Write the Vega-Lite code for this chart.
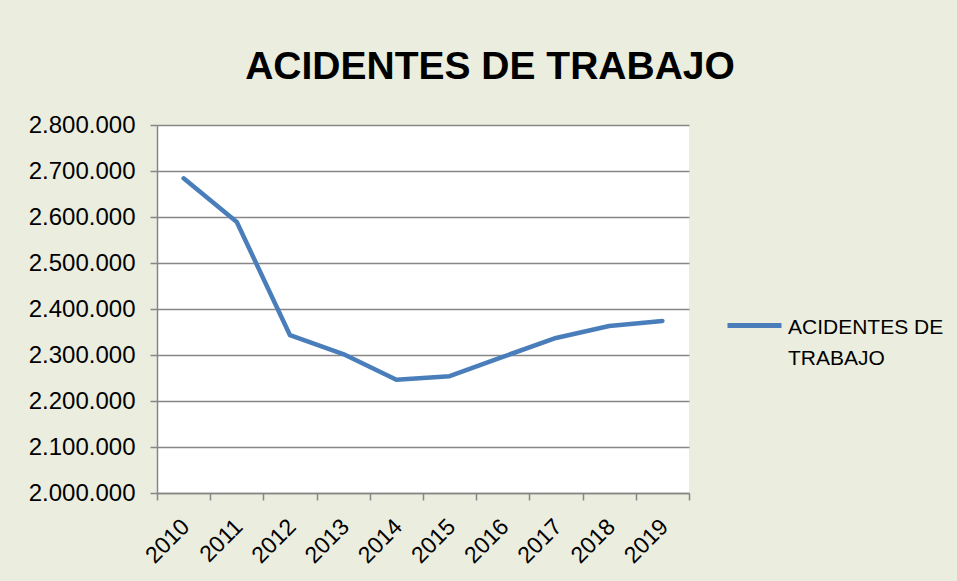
{
  "$schema": "https://vega.github.io/schema/vega-lite/v6.json",
  "autosize": "none",
  "width": 532,
  "height": 368,
  "padding": {"left": 157, "top": 125, "right": 268, "bottom": 88},
  "background": "#EBEEDF",
  "title": {
    "text": "ACIDENTES DE TRABAJO",
    "font": "Liberation Sans",
    "fontSize": 39,
    "fontWeight": "bold",
    "color": "#000000",
    "anchor": "middle",
    "dx": 67,
    "offset": 26
  },
  "data": {
    "values": [
      {"ano": "2010", "valor": 2684000, "serie": "ACIDENTES DE TRABAJO"},
      {"ano": "2011", "valor": 2589000, "serie": "ACIDENTES DE TRABAJO"},
      {"ano": "2012", "valor": 2343000, "serie": "ACIDENTES DE TRABAJO"},
      {"ano": "2013", "valor": 2302000, "serie": "ACIDENTES DE TRABAJO"},
      {"ano": "2014", "valor": 2246000, "serie": "ACIDENTES DE TRABAJO"},
      {"ano": "2015", "valor": 2254000, "serie": "ACIDENTES DE TRABAJO"},
      {"ano": "2016", "valor": 2296000, "serie": "ACIDENTES DE TRABAJO"},
      {"ano": "2017", "valor": 2337000, "serie": "ACIDENTES DE TRABAJO"},
      {"ano": "2018", "valor": 2363000, "serie": "ACIDENTES DE TRABAJO"},
      {"ano": "2019", "valor": 2374000, "serie": "ACIDENTES DE TRABAJO"}
    ]
  },
  "mark": {"type": "line", "strokeWidth": 4.5, "strokeCap": "round", "strokeJoin": "round"},
  "encoding": {
    "x": {
      "field": "ano",
      "type": "ordinal",
      "scale": {"paddingInner": 0, "paddingOuter": 0},
      "axis": {
        "title": null,
        "labelAngle": -45,
        "tickBand": "extent",
        "tickSize": 7,
        "labelPadding": 15,
        "labelOffset": -6,
        "labelFontSize": 23,
        "grid": false
      }
    },
    "y": {
      "field": "valor",
      "type": "quantitative",
      "scale": {"domain": [2000000, 2800000], "zero": false, "nice": false},
      "axis": {
        "title": null,
        "values": [2000000, 2100000, 2200000, 2300000, 2400000, 2500000, 2600000, 2700000, 2800000],
        "format": ",d",
        "tickSize": 7,
        "labelPadding": 15,
        "labelFontSize": 24,
        "grid": true
      }
    },
    "color": {
      "field": "serie",
      "type": "nominal",
      "scale": {"range": ["#4A7EBB"]},
      "legend": {
        "title": null,
        "orient": "none",
        "legendX": 568,
        "legendY": 171,
        "symbolType": "stroke",
        "symbolSize": 2916,
        "symbolStrokeWidth": 5,
        "labelOffset": 4,
        "labelExpr": "['ACIDENTES DE', 'TRABAJO']",
        "labelBaseline": "top",
        "labelLimit": 300,
        "encode": {"labels": {"update": {"dy": {"value": -9}}}}
      }
    }
  },
  "config": {
    "locale": {"number": {"decimal": ",", "thousands": ".", "grouping": [3], "currency": ["", ""]}},
    "view": {"fill": "#FFFFFF", "stroke": null},
    "style": {"guide-label": {"lineHeight": 31}},
    "axis": {
      "labelFont": "Liberation Sans",
      "labelColor": "#000000",
      "domainColor": "#868686",
      "domainWidth": 1.5,
      "tickColor": "#868686",
      "tickWidth": 1.5,
      "gridColor": "#868686",
      "gridWidth": 1.5
    },
    "legend": {
      "labelFont": "Liberation Sans",
      "labelFontSize": 21,
      "labelColor": "#000000"
    }
  }
}
